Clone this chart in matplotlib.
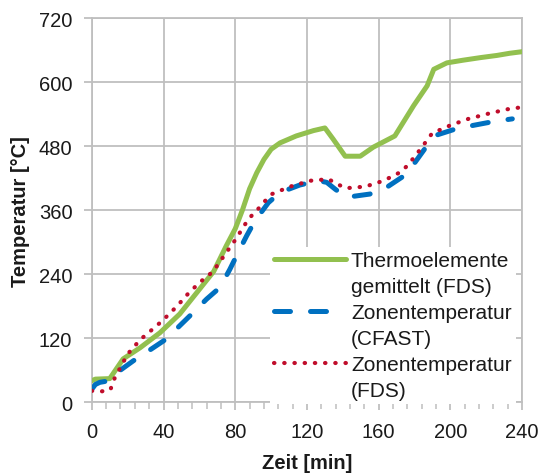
import matplotlib.pyplot as plt
from matplotlib.lines import Line2D
from matplotlib.ticker import MultipleLocator

plt.rcParams['font.family'] = ['Liberation Sans', 'DejaVu Sans']

# Thermoelemente gemittelt (FDS)
t_thermo = [0, 2, 10, 17.5, 27, 38, 49, 58.5, 68, 75, 80, 84, 88, 92, 96, 100, 105,
            114, 123.6, 130, 134.6, 141.3, 149.7, 157, 169, 179.5, 187, 190.7, 198,
            207, 217, 226, 233, 240]
T_thermo = [40, 43, 44, 81, 102, 130, 165, 205, 245, 293, 325, 360, 400, 430, 455,
            474, 486, 499, 509, 514, 493, 461, 461, 478, 499, 556, 593, 624, 636,
            641, 646, 650, 654, 657]

# Zonentemperatur (CFAST)
t_cfast = [0, 2, 4.5, 8, 15.6, 23, 33, 41, 49, 55.7, 64, 71.5, 77, 81.7, 86.4, 91,
           98.5, 105, 116, 126.4, 131, 135.8, 142, 155, 163.7, 174, 179.5, 187,
           192.6, 203.7, 213, 224, 234.5]
T_cfast = [24, 33, 37, 39, 59, 77, 99, 117, 143, 165, 193, 215, 249, 281, 312, 340,
           374, 393, 407, 415, 412, 399, 384, 390, 401, 424, 446, 481, 501, 513,
           519, 526, 531]

# Zonentemperatur (FDS)
t_fds = [0, 5.4, 10.4, 12, 14.7, 20, 27, 35.8, 39.8, 47.3, 54.7, 62.8, 67.4, 73.7,
         80, 86, 89, 93, 96.6, 100.4, 110.6, 121.8, 132, 136.7, 141.7, 152.5,
         162.7, 172.6, 176.7, 183, 189.8, 200, 210, 221.4, 231.7, 238]
T_fds = [21, 20, 23, 40, 57, 90, 117, 142, 154, 179, 207, 232, 244, 274, 304, 336,
         349, 363, 377, 390, 404, 415, 418, 409, 401, 404, 415, 432, 446, 473, 504,
         519, 531, 541, 549, 552]

legend_lines = ['Thermoelemente', 'gemittelt (FDS)',
                'Zonentemperatur', '(CFAST)',
                'Zonentemperatur', '(FDS)']

fig = plt.figure(figsize=(5.4, 4.77), dpi=100)
ax = fig.add_axes([0.170, 0.155, 0.797, 0.805])

grid_c = '#BFBFBF'
l1, = ax.plot(t_thermo, T_thermo, color='#92C04F', lw=3.6, solid_capstyle='round',
              zorder=3)
l2, = ax.plot(t_cfast, T_cfast, color='#0070C0', lw=3.6, dashes=(3.2, 4.0),
              dash_capstyle='round', zorder=4)
l3, = ax.plot(t_fds, T_fds, color='#C00D2B', lw=3.0, linestyle=(0, (0.1, 2.35)),
              dash_capstyle='round', zorder=5)

ax.set_xlim(0, 240)
ax.set_ylim(0, 720)
ax.xaxis.set_major_locator(MultipleLocator(40))
ax.xaxis.set_minor_locator(MultipleLocator(8))
ax.yaxis.set_major_locator(MultipleLocator(120))
ax.grid(True, which='major', color=grid_c, lw=1.3, zorder=0)
for s in ax.spines.values():
    s.set_color(grid_c)
    s.set_linewidth(1.3)
ax.tick_params(which='major', direction='out', length=6, width=1.3, color=grid_c,
               labelsize=14.5, labelcolor='#1a1a1a', pad=8)
ax.tick_params(which='minor', direction='out', length=5, width=1.1, color=grid_c)

ax.set_xlabel('Zeit [min]', fontsize=14.5, fontweight='bold', labelpad=9,
              color='#1a1a1a')
ax.set_ylabel('Temperatur [°C]', fontsize=14.5, fontweight='bold', labelpad=6,
              color='#1a1a1a')

# each legend entry spans two lines; the handle sits on the first one
blank = Line2D([], [], color='none')
handles = [l1, blank, l2, blank, l3, blank]
leg = ax.legend(handles, legend_lines, loc='lower right',
                bbox_to_anchor=(0.985, -0.005), fontsize=15,
                frameon=True, facecolor='white', edgecolor='none', framealpha=1,
                fancybox=False, handlelength=3.45, handletextpad=0.25,
                labelspacing=0.33, borderpad=0.2, borderaxespad=0.0)
for txt in leg.get_texts():
    txt.set_color('#1a1a1a')
leg.set_zorder(6)

fig.savefig('out.png', dpi=100)
